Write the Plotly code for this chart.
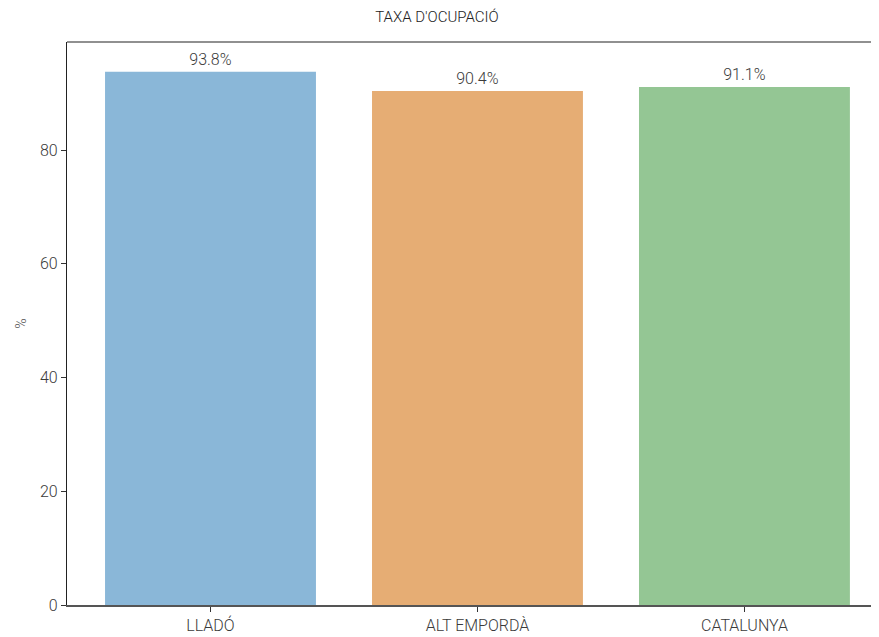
import plotly.graph_objects as go

categories = ["LLADÓ", "ALT EMPORDÀ", "CATALUNYA"]
values = [93.8, 90.4, 91.1]
labels = ["93.8%", "90.4%", "91.1%"]
colors = ["#8ab7d8", "#e6ad74", "#94c694"]
title = "TAXA D'OCUPACIÓ"
y_title = "%"
y_ticks = [0, 20, 40, 60, 80]

FONT = "Roboto"
TXT = "#3a3a3a"

fig = go.Figure(
    go.Bar(
        x=list(range(len(categories))),
        y=values,
        text=labels,
        textposition="outside",
        cliponaxis=False,
        textfont=dict(family=FONT, size=16, color=TXT, weight=300),
        marker=dict(color=colors, line=dict(width=0)),
        width=0.79,
    )
)

# page body has an 8px margin: figure coords = screen coords - 8
fig.update_layout(
    width=871,
    height=629,
    margin=dict(l=59, r=0, t=34, b=32),
    paper_bgcolor="white",
    plot_bgcolor="white",
    showlegend=False,
    font=dict(family=FONT, color=TXT, weight=300),
    title=dict(
        text=title,
        x=429 / 871,
        xanchor="center",
        y=1 - 9 / 629,
        yanchor="middle",
        font=dict(family=FONT, size=15, color="#222222", weight=300),
    ),
)

fig.update_xaxes(
    range=[-0.5375, 2.504],
    tickmode="array",
    tickvals=list(range(len(categories))),
    ticktext=categories,
    ticks="outside",
    ticklen=5,
    tickwidth=1,
    tickcolor="#333333",
    tickfont=dict(family=FONT, size=16, color=TXT, weight=300),
    showgrid=False,
    zeroline=False,
    showline=True,
    linecolor="#555555",
    linewidth=1.6,
    mirror=False,
)

fig.update_yaxes(
    range=[0, 99.03],
    tickmode="array",
    tickvals=y_ticks,
    ticks="outside",
    ticklen=5,
    tickwidth=1,
    tickcolor="#333333",
    tickfont=dict(family=FONT, size=16, color=TXT, weight=300),
    showgrid=False,
    zeroline=False,
    showline=True,
    linecolor="#222222",
    linewidth=1.2,
    title=dict(text=y_title, font=dict(family=FONT, size=14, color="#555555", weight=300), standoff=10),
)

# top frame line
fig.add_shape(type="line", xref="paper", yref="paper", x0=0, x1=1, y0=1, y1=1,
              line=dict(color="#222222", width=1.2))

fig.write_html("out.html")
